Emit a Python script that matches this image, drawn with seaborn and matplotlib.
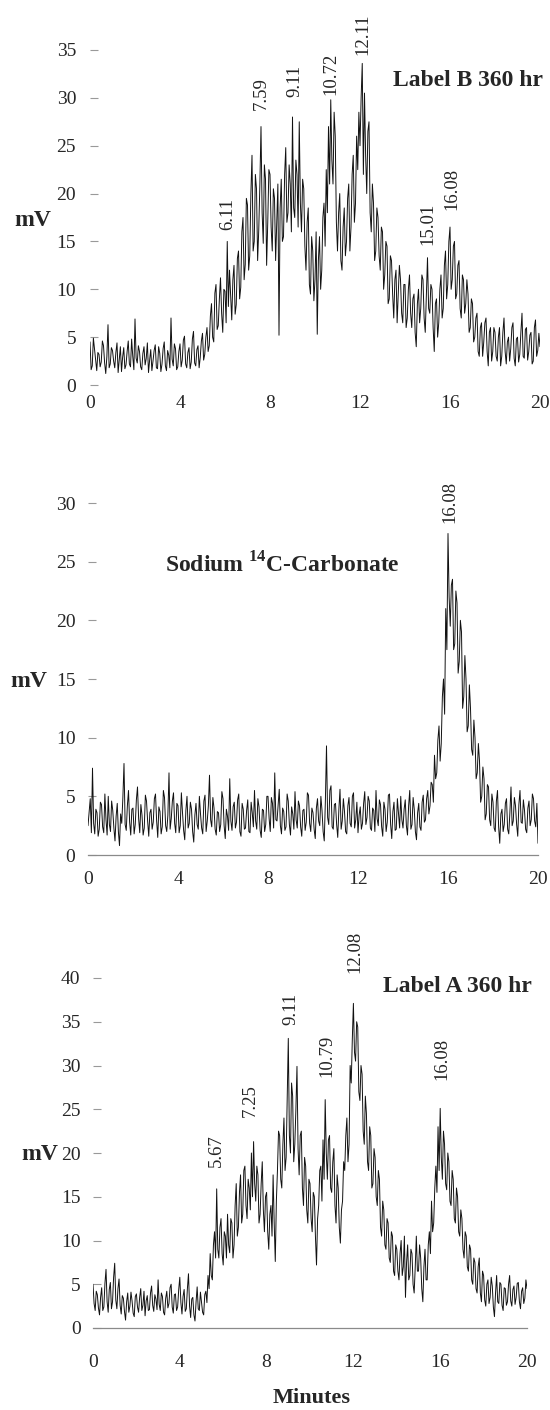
import matplotlib
matplotlib.use("Agg")
import matplotlib.pyplot as plt
import numpy as np
import seaborn as sns

STEP = 0.05  # min between readings

# Label B 360 hr trace (mV), one row per minute
label_b = [
    4.5, 1.6, 2.0, 4.9, 3.8, 2.7, 1.5, 3.4, 3.2, 1.9, 2.4, 4.6, 4.1, 2.3, 1.2, 3.0, 6.3, 1.8, 2.2, 3.9,
    3.6, 2.5, 1.8, 3.4, 4.4, 1.3, 2.6, 4.0, 1.4, 2.9, 3.9, 1.7, 2.1, 3.5, 4.6, 2.2, 1.9, 4.8, 3.0, 1.6,
    6.9, 2.8, 2.3, 4.1, 3.5, 1.9, 1.6, 3.3, 4.0, 2.1, 2.8, 4.4, 1.3, 2.6, 3.7, 1.5, 2.5, 3.6, 4.2, 1.8,
    1.7, 4.0, 3.3, 1.4, 2.2, 3.8, 4.5, 2.0, 1.5, 3.6, 3.1, 1.8, 7.0, 2.7, 2.0, 4.3, 3.8, 1.6, 1.9, 3.5,
    4.3, 1.9, 2.6, 4.7, 5.1, 2.2, 1.8, 3.4, 3.9, 1.7, 2.4, 4.8, 5.6, 2.3, 2.0, 3.7, 4.1, 1.8, 2.9, 4.6,
    5.4, 2.6, 3.2, 5.0, 6.0, 3.5, 4.1, 7.2, 8.5, 5.0, 4.5, 9.6, 10.5, 5.8, 6.2, 9.0, 11.2, 7.5, 5.5, 10.0,
    9.8, 6.5, 15.0, 8.2, 12.0, 9.5, 6.8, 11.0, 12.5, 7.4, 8.4, 13.2, 14.0, 9.0, 10.2, 16.0, 17.5, 11.0, 12.6, 19.5,
    18.8, 12.0, 13.5, 20.0, 24.0, 14.0, 15.0, 22.0, 20.5, 13.0, 16.2, 21.0, 27.0, 18.0, 14.8, 23.0, 21.5, 12.5, 17.0, 22.5,
    22.0, 16.5, 14.0, 20.5, 19.5, 13.0, 17.2, 21.0, 5.2, 18.5, 21.5, 15.0, 15.5, 22.0, 24.8, 17.0, 18.0, 23.0, 21.0, 16.0,
    28.0, 18.5, 17.5, 23.5, 22.0, 16.5, 27.5, 19.0, 16.0, 21.5, 20.5, 14.5, 12.0, 17.0, 18.5, 10.5, 9.5, 15.5, 14.0, 8.8,
    11.0, 16.0, 5.3, 13.0, 15.5, 10.0, 12.0, 17.5, 19.0, 14.5, 22.5, 18.0, 27.0, 21.0, 29.8, 23.5, 21.0, 28.5, 26.0, 17.0,
    14.0, 18.0, 20.0, 13.0, 12.0, 16.5, 18.5, 13.5, 15.0, 19.5, 21.0, 14.0, 16.5, 22.0, 24.0, 17.0, 19.0, 26.0, 22.5, 28.5,
    25.0, 30.0, 33.6, 22.0, 30.5, 24.0, 20.0, 26.5, 27.5, 18.0, 16.0, 21.0, 19.0, 13.0, 14.0, 18.5, 17.5, 13.5, 12.0, 16.5,
    16.0, 10.0, 11.5, 15.0, 14.5, 8.5, 9.0, 13.5, 13.0, 9.5, 7.0, 11.0, 12.0, 6.5, 9.5, 12.5, 11.0, 7.5, 6.5, 10.5,
    10.5, 6.0, 7.0, 10.0, 11.5, 7.5, 6.0, 9.0, 9.5, 5.5, 4.0, 8.5, 10.0, 6.5, 8.0, 11.5, 11.0, 7.0, 5.5, 9.5,
    13.3, 8.0, 7.5, 10.5, 10.0, 6.0, 3.5, 8.5, 9.0, 5.0, 6.5, 10.0, 11.5, 7.0, 8.0, 12.5, 14.0, 9.0, 10.5, 15.0,
    16.5, 10.0, 11.0, 14.5, 15.0, 9.0, 9.5, 12.5, 13.0, 8.0, 7.0, 11.5, 11.0, 7.5, 8.5, 11.0, 9.5, 5.5, 6.0, 9.0,
    8.5, 4.5, 5.0, 7.0, 7.5, 3.5, 3.0, 6.0, 6.5, 3.0, 4.5, 6.5, 7.0, 3.5, 2.0, 5.5, 6.0, 2.5, 3.5, 6.0,
    5.5, 3.0, 2.5, 5.0, 6.0, 2.0, 3.0, 5.5, 7.0, 3.5, 2.2, 4.5, 5.0, 2.5, 3.8, 6.0, 6.5, 2.8, 2.0, 4.8,
    5.0, 2.4, 3.2, 5.5, 7.5, 3.0, 2.8, 5.8, 6.0, 2.6, 3.5, 5.2, 5.5, 2.2, 2.5, 6.0, 6.8, 3.0, 3.6, 5.4, 4.0,
]

# Sodium 14C-carbonate trace (mV)
carbonate = [
    2.5, 3.6, 4.8, 1.9, 7.4, 2.7, 1.8, 3.9, 3.6, 1.6, 2.2, 4.5, 4.3, 2.4, 1.9, 5.2, 3.0, 1.7, 5.0, 2.6,
    2.0, 4.6, 3.8, 2.3, 1.2, 3.3, 4.4, 2.0, 0.8, 3.5, 2.7, 4.9, 7.8, 2.6, 2.1, 4.2, 5.5, 2.8, 1.7, 3.9,
    4.0, 1.8, 2.6, 4.7, 5.8, 3.1, 1.9, 4.3, 3.4, 1.7, 2.3, 5.1, 4.6, 2.9, 1.6, 3.6, 3.9, 2.2, 2.8, 4.8,
    5.2, 2.9, 1.5, 4.1, 3.7, 1.8, 2.4, 5.5, 4.9, 2.5, 2.0, 3.4, 7.0, 2.2, 3.1, 4.6, 5.3, 2.7, 1.9, 4.4,
    4.2, 1.9, 2.5, 5.3, 3.6, 2.1, 1.3, 3.8, 5.0, 2.3, 2.7, 4.5, 3.9, 2.0, 1.1, 3.4, 4.4, 2.6, 2.2, 5.0,
    3.5, 2.3, 1.8, 4.6, 5.1, 2.0, 2.9, 4.2, 6.8, 3.0, 2.4, 4.9, 4.0, 2.2, 1.7, 3.7, 3.6, 2.0, 2.6, 5.4,
    4.8, 2.5, 1.4, 3.9, 3.3, 2.1, 6.5, 2.9, 2.1, 4.1, 4.5, 2.3, 2.8, 4.7, 5.2, 2.0, 1.6, 4.4, 3.9, 2.2,
    2.3, 3.8, 4.7, 2.0, 1.9, 4.5, 3.6, 2.4, 5.5, 2.9, 2.2, 4.8, 4.1, 2.1, 1.5, 3.9, 3.8, 2.0, 2.6, 5.0,
    5.0, 3.1, 2.0, 4.9, 4.4, 2.3, 7.0, 3.0, 2.9, 4.3, 5.6, 2.5, 1.8, 4.0, 3.7, 2.1, 2.4, 5.2, 4.6, 2.6,
    1.7, 4.1, 3.5, 2.2, 5.4, 3.0, 2.3, 4.6, 4.2, 2.4, 1.6, 3.8, 3.9, 2.1, 2.8, 5.3, 5.1, 2.7, 2.0, 4.0,
    3.6, 2.2, 1.4, 4.0, 4.8, 2.9, 2.5, 5.0, 3.8, 2.0, 1.2, 4.6, 9.3, 3.2, 2.6, 5.5, 5.9, 2.4, 2.2, 4.3,
    4.4, 2.6, 1.5, 3.9, 5.6, 2.2, 2.9, 4.8, 3.7, 2.0, 1.8, 4.2, 4.9, 2.7, 2.4, 5.0, 5.3, 2.3, 3.0, 4.5,
    1.9, 3.4, 4.1, 2.2, 2.7, 4.4, 5.4, 2.6, 3.2, 5.0, 4.6, 2.3, 2.1, 4.0, 3.8, 2.0, 5.5, 3.1, 2.5, 4.7,
    4.3, 2.4, 1.6, 4.5, 3.9, 2.0, 2.8, 5.1, 5.2, 2.6, 1.4, 3.7, 4.5, 2.1, 2.2, 4.8, 3.6, 2.3, 5.0, 3.0,
    2.3, 3.9, 4.7, 2.5, 1.7, 4.2, 5.5, 2.2, 2.6, 4.9, 3.9, 2.0, 1.3, 3.6, 4.4, 2.4, 2.1, 4.5, 5.1, 2.8,
    3.0, 4.8, 5.5, 3.5, 4.2, 6.2, 6.0, 4.5, 8.5, 6.5, 7.0, 9.8, 11.0, 8.0, 9.5, 13.5, 15.0, 12.0, 21.0, 17.5,
    27.4, 22.0, 19.5, 23.0, 23.5, 17.5, 18.0, 22.5, 21.5, 15.5, 16.5, 20.0, 19.0, 12.5, 13.5, 17.0, 15.0, 10.5, 11.0, 14.5,
    12.5, 9.0, 8.5, 11.5, 10.0, 6.5, 7.0, 9.5, 8.0, 4.5, 5.0, 7.5, 6.5, 3.0, 3.5, 6.0, 5.8, 3.0, 2.5, 5.2,
    4.5, 2.3, 2.0, 4.6, 5.5, 2.4, 1.0, 3.5, 3.9, 2.0, 2.6, 4.4, 4.8, 2.2, 1.8, 3.6, 5.8, 2.5, 2.9, 4.9,
    4.2, 2.6, 1.6, 4.3, 5.5, 2.8, 2.7, 4.7, 3.8, 2.2, 1.9, 4.0, 4.6, 2.5, 3.0, 5.2, 4.8, 2.9, 2.4, 4.4, 1.0,
]

# Label A 360 hr trace (mV)
label_a = [
    5.0, 2.8, 2.0, 4.2, 3.8, 2.3, 1.5, 3.5, 4.6, 2.0, 2.4, 5.1, 6.7, 3.0, 1.8, 4.4, 5.2, 2.2, 3.0, 5.8,
    7.4, 3.2, 2.2, 4.5, 5.6, 2.6, 1.6, 3.7, 3.4, 1.9, 0.9, 3.0, 4.0, 1.8, 2.5, 4.1, 3.1, 1.7, 1.3, 3.6,
    3.9, 2.4, 1.8, 3.5, 4.5, 2.0, 2.6, 4.2, 1.4, 3.1, 3.7, 2.0, 2.1, 4.0, 4.8, 2.6, 1.9, 3.8, 3.3, 2.1,
    5.5, 2.7, 2.0, 4.0, 3.6, 1.8, 1.5, 3.4, 4.2, 2.3, 2.8, 4.6, 5.0, 2.4, 1.7, 3.8, 3.9, 2.0, 2.4, 4.4,
    5.8, 2.9, 1.6, 3.6, 4.4, 1.9, 2.2, 4.5, 6.2, 2.5, 1.2, 3.3, 3.5, 1.5, 0.8, 3.0, 4.7, 2.2, 2.0, 4.1,
    3.0, 1.8, 1.5, 3.8, 4.2, 2.9, 6.0, 4.5, 8.5, 6.0, 5.5, 9.5, 11.0, 8.0, 15.9, 9.0, 8.0, 11.5, 12.5, 8.5,
    7.2, 11.0, 10.5, 8.0, 13.0, 9.5, 8.6, 12.5, 12.0, 8.0, 9.5, 14.0, 16.5, 10.5, 11.5, 15.5, 17.5, 12.0, 13.0, 18.0,
    18.5, 14.0, 12.5, 17.0, 16.0, 13.5, 20.0, 15.0, 21.3, 16.5, 14.5, 18.5, 17.5, 12.0, 13.0, 16.5, 19.0, 13.5, 11.0, 15.0,
    15.5, 11.0, 9.0, 13.0, 14.0, 10.5, 17.5, 12.0, 7.6, 14.5, 18.0, 22.5, 22.0, 17.0, 16.0, 21.0, 24.0, 18.0, 19.5, 26.0,
    33.1, 22.0, 20.0, 28.0, 26.5, 19.0, 21.0, 25.0, 29.9, 20.5, 17.5, 22.0, 22.5, 16.0, 14.0, 19.5, 18.5, 13.5, 12.0, 17.0,
    16.5, 12.5, 11.0, 15.5, 15.0, 10.5, 7.2, 12.5, 14.0, 18.0, 18.5, 14.5, 21.5, 17.0, 26.1, 20.0, 17.0, 21.5, 22.0, 16.0,
    15.5, 19.0, 20.5, 14.0, 12.0, 17.5, 16.0, 11.5, 9.7, 13.5, 14.5, 19.0, 18.0, 22.0, 24.0, 19.0, 21.0, 30.0, 28.0, 33.0,
    37.1, 31.5, 30.5, 35.0, 34.4, 27.0, 26.0, 30.0, 29.0, 22.5, 21.0, 26.5, 24.5, 19.0, 18.0, 23.0, 22.0, 16.0, 16.5, 20.5,
    19.5, 15.0, 14.0, 18.0, 17.0, 11.5, 10.5, 14.5, 13.5, 9.5, 9.0, 12.5, 12.0, 8.0, 7.5, 11.0, 10.5, 6.5, 6.0, 9.5,
    9.0, 6.5, 5.5, 8.5, 10.0, 6.0, 7.0, 10.5, 3.5, 7.5, 9.5, 5.5, 6.0, 9.0, 8.5, 5.0, 4.0, 7.0, 10.5, 6.5,
    6.5, 9.5, 8.0, 4.5, 3.0, 7.0, 9.0, 5.5, 5.5, 9.5, 11.0, 8.5, 14.5, 11.0, 12.0, 16.0, 18.5, 15.5, 23.0, 18.0,
    25.1, 19.5, 17.0, 22.5, 21.0, 16.5, 15.8, 20.0, 19.0, 14.5, 14.0, 18.0, 17.0, 12.5, 12.0, 16.0, 15.0, 11.0, 10.5, 13.5,
    12.5, 9.0, 8.0, 11.0, 10.5, 7.0, 6.5, 9.5, 9.0, 5.5, 5.0, 8.0, 7.5, 4.5, 4.0, 7.0, 8.0, 4.0, 3.0, 6.5,
    6.0, 3.2, 2.5, 5.0, 5.5, 2.8, 3.5, 5.8, 4.8, 2.4, 1.3, 4.0, 6.0, 3.0, 2.8, 5.2, 5.0, 2.6, 2.0, 4.6,
    4.5, 2.6, 3.0, 5.0, 6.0, 3.1, 2.5, 4.4, 4.8, 2.7, 3.5, 5.1, 5.2, 3.0, 2.2, 4.2, 4.6, 2.8, 3.4, 5.5, 4.5,
]

# peak retention-time labels and the height their text starts at (mV)
peaks_b = ["6.11", "7.59", "9.11", "10.72", "12.11", "15.01", "16.08"]
peaks_b_y = [16.2, 28.7, 30.1, 30.3, 34.5, 14.6, 18.3]
peaks_c = ["16.08"]
peaks_c_y = [28.3]
peaks_a = ["5.67", "7.25", "9.11", "10.79", "12.08", "16.08"]
peaks_a_y = [18.4, 24.1, 34.6, 28.7, 40.6, 28.3]

sns.set_style("white")
plt.rcParams["font.family"] = ["Liberation Serif", "DejaVu Serif"]
plt.rcParams["mathtext.fontset"] = "custom"
plt.rcParams["mathtext.rm"] = "Liberation Serif"
plt.rcParams["mathtext.bf"] = "Liberation Serif:bold"

W, H = 550, 1410
fig = plt.figure(figsize=(W / 100, H / 100), dpi=100)


def px_axes(x0, x1, y_top, y_bot):
    return fig.add_axes([x0 / W, 1 - y_bot / H, (x1 - x0) / W, (y_bot - y_top) / H])


def style_panel(ax, ymax, x_pad, y_pad, show_axis_line=True):
    ax.set_xlim(0, 20)
    ax.set_ylim(0, ymax)
    ax.set_xticks(range(0, 21, 4))
    ax.set_xticks(range(2, 20, 4), minor=True)
    ax.set_yticks(range(0, ymax + 1, 5))
    for side in ("top", "right", "left"):
        ax.spines[side].set_visible(False)
    ax.spines["bottom"].set_visible(show_axis_line)
    ax.spines["bottom"].set_color("#8a8a8a")
    ax.spines["bottom"].set_linewidth(0.9)
    ax.tick_params(axis="x", which="major", direction="inout", length=7,
                   width=0.9, color="#777777", labelsize=14, pad=x_pad)
    ax.tick_params(axis="x", which="minor", direction="in", length=3,
                   width=0.8, color="#999999")
    ax.tick_params(axis="y", direction="in", length=6, width=0.8,
                   color="#999999", labelsize=14, pad=y_pad, left=True)
    ax.set_xlabel("")
    ax.set_ylabel("")
    ax.patch.set_alpha(0)


def draw_trace(ax, values):
    assert len(values) == 401, len(values)
    t = np.arange(len(values)) * STEP
    sns.lineplot(x=t, y=values, ax=ax, color="#111111", lw=0.7,
                 estimator=None, sort=False)


def label_peaks(ax, names, heights):
    for name, h in zip(names, heights):
        ax.text(float(name), h, name, rotation=90, ha="center", va="bottom",
                fontsize=13.5, clip_on=False)


# panel 1: Label B
ax1 = px_axes(90, 540, 50, 385)
draw_trace(ax1, label_b)
style_panel(ax1, 35, x_pad=4, y_pad=10, show_axis_line=False)
label_peaks(ax1, peaks_b, peaks_b_y)
fig.text(468 / W, 1 - 80 / H, "Label B 360 hr", ha="center", va="center",
         fontsize=17, fontweight="bold")
fig.text(33 / W, 1 - 220 / H, "mV", ha="center", va="center",
         fontsize=17, fontweight="bold")

# panel 2: sodium carbonate
ax2 = px_axes(88, 538, 503, 855)
draw_trace(ax2, carbonate)
style_panel(ax2, 30, x_pad=8, y_pad=9)
label_peaks(ax2, peaks_c, peaks_c_y)
fig.text(282 / W, 1 - 565 / H, r"Sodium $^{\mathbf{14}}$C-Carbonate",
         ha="center", va="center", fontsize=17, fontweight="bold")
fig.text(29 / W, 1 - 682 / H, "mV", ha="center", va="center",
         fontsize=17, fontweight="bold")

# panel 3: Label A
ax3 = px_axes(93, 527, 978, 1328)
draw_trace(ax3, label_a)
style_panel(ax3, 40, x_pad=15, y_pad=9)
label_peaks(ax3, peaks_a, peaks_a_y)
fig.text(457 / W, 1 - 987 / H, "Label A 360 hr", ha="center", va="center",
         fontsize=17, fontweight="bold")
fig.text(40 / W, 1 - 1155 / H, "mV", ha="center", va="center",
         fontsize=17, fontweight="bold")
fig.text(312 / W, 1 - 1398 / H, "Minutes", ha="center", va="center",
         fontsize=16, fontweight="bold")

fig.savefig("out.png", dpi=100)
